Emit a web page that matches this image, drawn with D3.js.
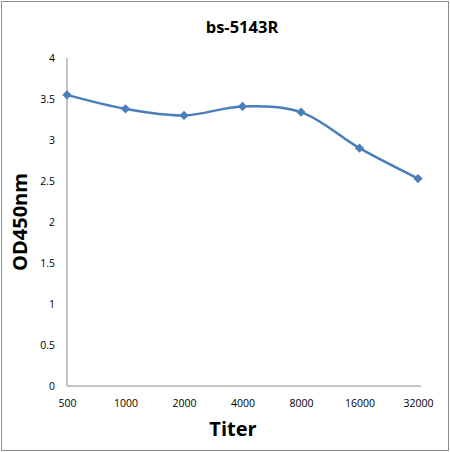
<!DOCTYPE html>
<html><head><meta charset="utf-8">
<script src="https://cdn.jsdelivr.net/npm/d3@7"></script>
<style>body{margin:0;background:#fff;}</style>
</head><body>
<svg id="c" width="450" height="452"></svg>
<script>
const categories = ["500","1000","2000","4000","8000","16000","32000"];
const values = [3.55, 3.38, 3.30, 3.41, 3.34, 2.90, 2.53];
const yTicks = [0, 0.5, 1, 1.5, 2, 2.5, 3, 3.5, 4];
const title = "bs-5143R";
const xTitle = "Titer";
const yTitle = "OD450nm";

const svg = d3.select("#c");
svg.append("rect").attr("x",1.5).attr("y",1.5).attr("width",447).attr("height",449)
  .attr("fill","#fff").attr("stroke","#8c8c8c").attr("stroke-width",1);

const pLeft=67, pRight=418, pTop=58, pBottom=386;
const x = d3.scalePoint().domain(categories).range([pLeft,pRight]);
const y = d3.scaleLinear().domain([0,4]).range([pBottom,pTop]);
const font = "'Open Sans', 'DejaVu Sans', sans-serif";

// axes lines
svg.append("line").attr("x1",pLeft).attr("x2",pLeft).attr("y1",y(4)).attr("y2",y(0))
  .attr("stroke","#8c8c8c").attr("stroke-width",1);
svg.append("line").attr("x1",pLeft).attr("x2",421).attr("y1",y(0)).attr("y2",y(0))
  .attr("stroke","#8c8c8c").attr("stroke-width",1);

const yAxis = d3.axisLeft(y).tickValues(yTicks).tickSize(0).tickPadding(12).tickFormat(d=>String(d));
const gy = svg.append("g").attr("transform",`translate(${pLeft},0)`).call(yAxis);
gy.select(".domain").remove();
gy.selectAll("text").attr("font-family",font).attr("font-size",10.5).attr("fill","#000");

const xAxis = d3.axisBottom(x).tickSize(0).tickPadding(14);
const gx = svg.append("g").attr("transform",`translate(0,${pBottom})`).call(xAxis);
gx.select(".domain").remove();
gx.selectAll("text").attr("font-family",font).attr("font-size",10.5).attr("fill","#000");

// line
const line = d3.line().x((d,i)=>x(categories[i])).y(d=>y(d)).curve(d3.curveCatmullRom.alpha(0.5));
svg.append("path").datum(values).attr("d",line).attr("fill","none")
  .attr("stroke","#4a7ebb").attr("stroke-width",2.5);

svg.selectAll(".m").data(values).enter().append("path")
  .attr("d", d3.symbol().type(d3.symbolDiamond2).size(55))
  .attr("transform",(d,i)=>`translate(${x(categories[i])},${y(d)})`)
  .attr("fill","#4a7ebb");

svg.append("text").attr("x",242).attr("y",33).attr("text-anchor","middle")
  .attr("font-family",font).attr("font-weight","bold").attr("font-size",16.5).text(title);
svg.append("text").attr("x",233).attr("y",436).attr("text-anchor","middle")
  .attr("font-family",font).attr("font-weight","bold").attr("font-size",20).text(xTitle);
svg.append("text").attr("transform","translate(27,222) rotate(-90)").attr("text-anchor","middle")
  .attr("font-family",font).attr("font-weight","bold").attr("font-size",20).text(yTitle);
</script>
</body></html>
